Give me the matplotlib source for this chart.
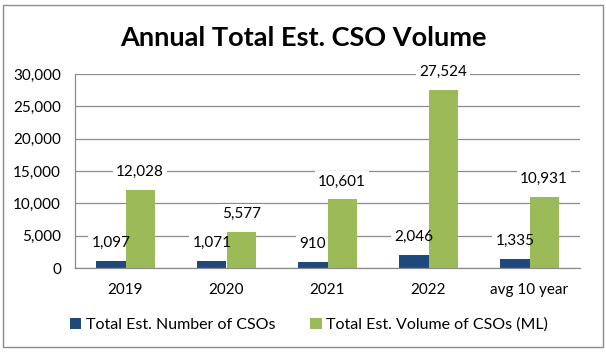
import numpy as np
import matplotlib
matplotlib.use('Agg')
import matplotlib.pyplot as plt
from matplotlib.patches import Rectangle

# ========== 資料 ==========
categories = ['2019', '2020', '2021', '2022', 'avg 10 year']
num_csos = [1097, 1071, 910, 2046, 1335]
vol_csos = [12028, 5577, 10601, 27524, 10931]
series_names = ['Total Est. Number of CSOs', 'Total Est. Volume of CSOs (ML)']
title = 'Annual Total Est. CSO Volume'

BLUE = '#1F497D'
GREEN = '#9BBB59'
GRID = '#8C8C8C'

plt.rcParams['font.family'] = ['Lato', 'DejaVu Sans']

fig = plt.figure(figsize=(6.06, 3.52), dpi=100)
ax = fig.add_axes([75 / 606, 1 - 268 / 352, (580 - 75) / 606, (268 - 74) / 352])

# 外框
fig.patches.append(Rectangle((3 / 606, 5 / 352), 600 / 606, 342 / 352,
                             transform=fig.transFigure, fill=False,
                             edgecolor='#8C8C8C', linewidth=1.0))

x = np.arange(len(categories))
w = 0.29
b1 = ax.bar(x - w / 2, num_csos, w, color=BLUE, label=series_names[0], zorder=2)
b2 = ax.bar(x + w / 2, vol_csos, w, color=GREEN, label=series_names[1], zorder=2)

# 資料標籤：白底遮住格線，但在長條下方；文字在最上層
for bars, vals in [(b1, num_csos), (b2, vol_csos)]:
    for rect, v in zip(bars, vals):
        pos = (rect.get_x() + rect.get_width() / 2, rect.get_height())
        ax.annotate(f'{v:,}', pos, xytext=(0, 13), textcoords='offset points',
                    ha='center', va='center', fontsize=11, color='none', zorder=1,
                    bbox=dict(boxstyle='square,pad=0.2', fc='white', ec='none'))
        ax.annotate(f'{v:,}', pos, xytext=(0, 13), textcoords='offset points',
                    ha='center', va='center', fontsize=11, color='black', zorder=4)

ax.set_xlim(-0.5, len(categories) - 0.5)
ax.set_ylim(0, 30000)
ax.set_yticks(np.arange(0, 30001, 5000))
ax.set_yticklabels([f'{t:,}' for t in range(0, 30001, 5000)])
ax.set_xticks(x)
ax.set_xticklabels(categories)
ax.tick_params(axis='both', length=0, labelsize=11)
ax.tick_params(axis='y', pad=10)
ax.tick_params(axis='x', pad=11)
ax.grid(axis='y', color=GRID, linewidth=0.9, zorder=0)
ax.set_axisbelow(True)
for s in ['top', 'right']:
    ax.spines[s].set_visible(False)
for s in ['left', 'bottom']:
    ax.spines[s].set_color(GRID)
    ax.spines[s].set_linewidth(0.9)
    ax.spines[s].set_zorder(3)

fig.text(0.5, 1 - 38 / 352, title, ha='center', va='center', fontsize=19.5, fontweight='bold')

fig.legend(loc='center', bbox_to_anchor=(0.51, 1 - 325 / 352), ncol=2, frameon=False,
           fontsize=11.5, handlelength=0.7, handleheight=0.7, handletextpad=0.3,
           columnspacing=2.2)

plt.savefig('out.png', dpi=100)
plt.close()
